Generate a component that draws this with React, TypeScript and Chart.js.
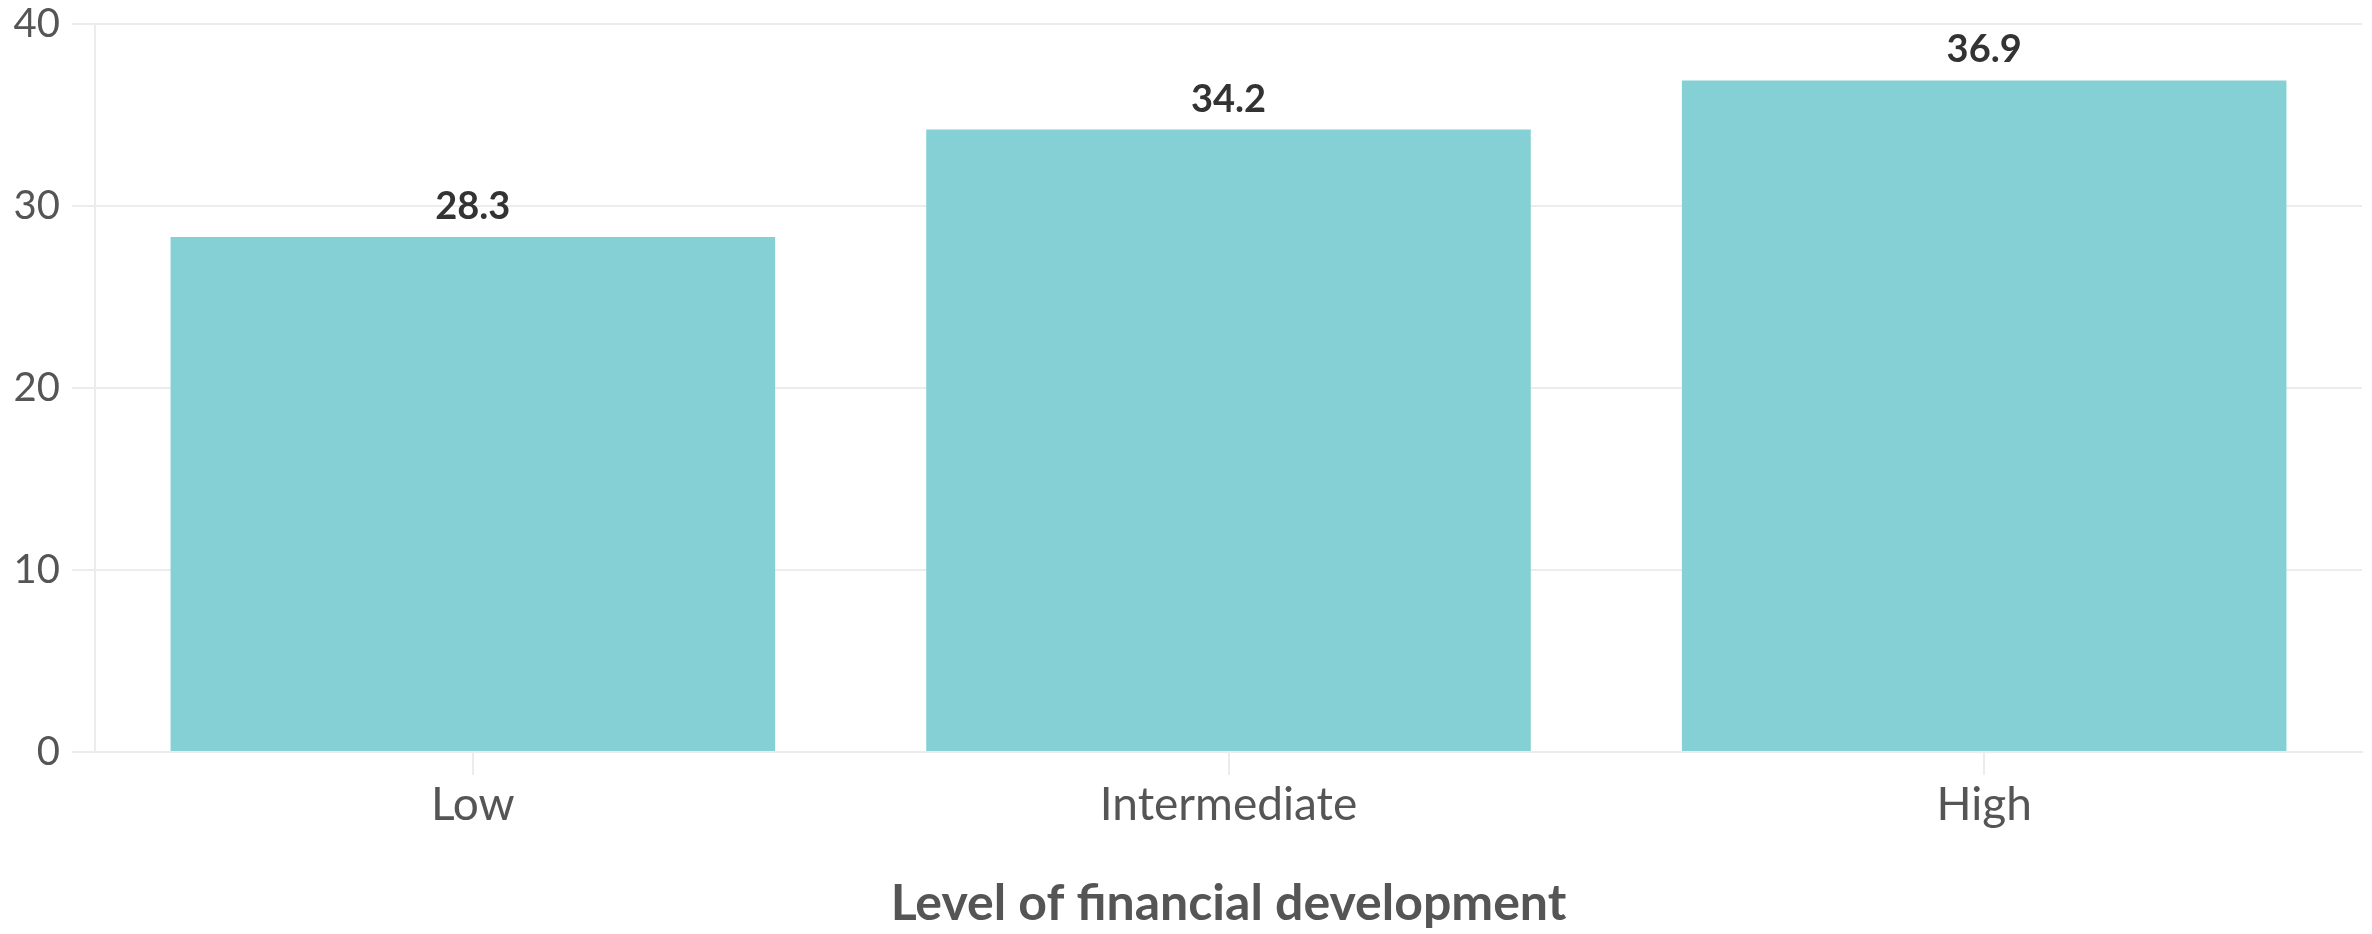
import React, { useEffect, useRef } from "react";
import { Chart, registerables } from "chart.js";

Chart.register(...registerables);

const categories = ["Low", "Intermediate", "High"];
const values = [28.3, 34.2, 36.9];
const yTicks = [0, 10, 20, 30, 40];
const xTitle = "Level of financial development";

const FONT = "Lato, 'Noto Sans', sans-serif";

const valueLabelPlugin = {
  id: "valueLabels",
  afterDatasetsDraw(chart: any) {
    const { ctx } = chart;
    const meta = chart.getDatasetMeta(0);
    ctx.save();
    ctx.font = `bold 38px ${FONT}`;
    ctx.fillStyle = "#333333";
    ctx.textAlign = "center";
    ctx.textBaseline = "alphabetic";
    meta.data.forEach((bar: any, i: number) => {
      ctx.fillText(values[i].toFixed(1), bar.x, bar.y - 18);
    });
    ctx.restore();
  },
};

export default function App() {
  const ref = useRef<HTMLCanvasElement | null>(null);
  useEffect(() => {
    if (!ref.current) return;
    const chart = new Chart(ref.current, {
      type: "bar",
      data: {
        labels: categories,
        datasets: [
          {
            data: values,
            backgroundColor: "#84d0d4",
            borderWidth: 0,
            barPercentage: 0.8,
            categoryPercentage: 1,
          },
        ],
      },
      options: {
        animation: false,
        responsive: false,
        maintainAspectRatio: false,
        layout: { padding: { top: 0, right: 10, bottom: 0, left: 0 } },
        plugins: {
          legend: { display: false },
          tooltip: { enabled: false },
        },
        scales: {
          x: {
            grid: {
              drawOnChartArea: false,
              offset: false,
              tickLength: 23,
              color: "#ececec",
              lineWidth: 2,
            },
            border: { color: "#ececec", width: 2 },
            ticks: {
              font: { family: FONT, size: 46 },
              color: "#555555",
              padding: 3,
            },
            title: {
              display: true,
              text: xTitle,
              font: { family: FONT, size: 50, weight: "bold" },
              color: "#555555",
              padding: { top: 0, bottom: 0 },
            },
            afterFit: (s: any) => {
              s.height = 182;
            },
          },
          y: {
            min: 0,
            max: 40,
            afterBuildTicks: (s: any) => {
              s.ticks = yTicks.map((v) => ({ value: v }));
            },
            grid: {
              color: "#ececec",
              lineWidth: 2,
              tickLength: 23,
            },
            border: { color: "#ececec", width: 2 },
            ticks: {
              font: { family: FONT, size: 40, lineHeight: 0.6 },
              color: "#555555",
              padding: 12,
            },
            afterFit: (s: any) => {
              s.width = 95;
            },
          },
        },
      },
      plugins: [valueLabelPlugin],
    });
    return () => chart.destroy();
  }, []);
  return (
    <div style={{ position: "fixed", left: 0, top: 0, width: 2372, height: 934, background: "#fff" }}>
      <canvas ref={ref} width={2372} height={934} style={{ width: 2372, height: 934 }} />
    </div>
  );
}
